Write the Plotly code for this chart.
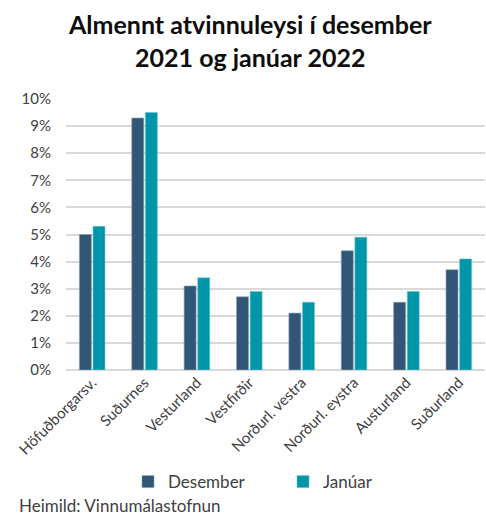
import plotly.graph_objects as go

categories = ["Höfuðborgarsv.", "Suðurnes", "Vesturland", "Vestfirðir",
              "Norðurl. vestra", "Norðurl. eystra", "Austurland", "Suðurland"]
desember = [0.050, 0.093, 0.031, 0.027, 0.021, 0.044, 0.025, 0.037]
januar = [0.053, 0.095, 0.034, 0.029, 0.025, 0.049, 0.029, 0.041]
ytick_vals = [0, 0.01, 0.02, 0.03, 0.04, 0.05, 0.06, 0.07, 0.08, 0.09, 0.10]
ytick_text = [f"{int(round(v*100))}%" for v in ytick_vals]

FONT = "Lato, Calibri, Carlito, sans-serif"

fig = go.Figure()
fig.add_trace(go.Bar(x=categories, y=desember, name="Desember", legend="legend",
                     marker=dict(color="#325676", line=dict(color="#8aa0b4", width=0.6))))
fig.add_trace(go.Bar(x=categories, y=januar, name="Janúar", legend="legend2",
                     marker=dict(color="#0096a9", line=dict(color="#6cc6d0", width=0.6))))

legend_common = dict(orientation="h", xanchor="left", y=-0.347, yanchor="top",
                     bgcolor="rgba(0,0,0,0)", itemwidth=30,
                     font=dict(family=FONT, size=17, color="#404040"))

fig.update_layout(
    width=486, height=516,
    margin=dict(l=66, r=1, t=99, b=146, autoexpand=False),
    paper_bgcolor="white", plot_bgcolor="white",
    font=dict(family=FONT, size=14, color="#404040"),
    barmode="group", bargap=0.48, bargroupgap=0.12,
    showlegend=True,
    legend=dict(x=(128 - 66) / 419, **legend_common),
    legend2=dict(x=(283 - 66) / 419, **legend_common),
    annotations=[
        dict(text="<b>Almennt atvinnuleysi í desember<br>2021 og janúar 2022</b>",
             xref="paper", yref="paper", x=(250 - 66) / 419, y=(370 - 40) / 271,
             xanchor="center", yanchor="middle", showarrow=False,
             font=dict(family=FONT, size=25, color="#0d0d0d")),
        dict(text="Heimild: Vinnumálastofnun", xref="paper", yref="paper",
             x=(17 - 66) / 419, y=(370 - 505) / 271, xanchor="left", yanchor="middle",
             showarrow=False, font=dict(family=FONT, size=17, color="#404040")),
    ],
)
fig.update_xaxes(tickangle=-45, showgrid=False, showline=False, ticks="", automargin=False,
                 tickfont=dict(family=FONT, size=15, color="#404040"))
fig.update_yaxes(range=[0, 0.1], tickvals=ytick_vals, ticktext=ytick_text, automargin=False,
                 showgrid=True, gridcolor="#d9d9d9", gridwidth=1.5,
                 zeroline=True, zerolinecolor="#d9d9d9", zerolinewidth=1.5,
                 ticks="", ticklabelstandoff=14,
                 tickfont=dict(family=FONT, size=15, color="#404040"))

fig.write_html("out.html", config={"displayModeBar": False},
               post_script="document.body.style.margin='0';document.body.style.padding='0';")
